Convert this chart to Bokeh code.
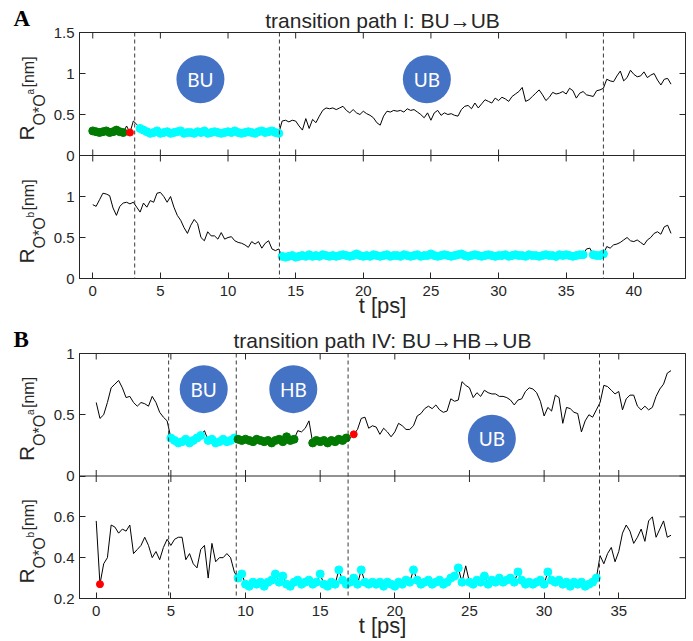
import numpy as np
from bokeh.plotting import figure
from bokeh.models import (Range1d, LinearAxis, FixedTicker, Span, Title,
                          CustomJSTickFormatter)
from bokeh.layouts import column, row
from bokeh.embed import file_html
from bokeh.resources import INLINE
from bokeh.core.properties import value

# ---------------- data: transition path I (panel A) ----------------
step_I = 0.25
ra_I = [0.30, 0.29, 0.28, 0.29, 0.30, 0.28, 0.29, 0.31, 0.29, 0.28,
        0.36, 0.28, 0.42, 0.38, 0.33, 0.31,
        0.29, 0.27, 0.28, 0.30, 0.27, 0.28, 0.29, 0.27, 0.28, 0.29,
        0.30, 0.27, 0.28, 0.28, 0.27, 0.29, 0.28, 0.30, 0.27, 0.28,
        0.29, 0.28, 0.27, 0.28, 0.29, 0.28, 0.30, 0.28, 0.27, 0.28,
        0.29, 0.28, 0.27, 0.29, 0.30, 0.28, 0.29, 0.30, 0.28, 0.27,
        0.42, 0.43, 0.41, 0.43, 0.42, 0.36, 0.31, 0.45, 0.33, 0.44,
        0.40, 0.48, 0.55, 0.58, 0.57, 0.58, 0.56, 0.58, 0.60, 0.55,
        0.52, 0.56, 0.52, 0.50, 0.54, 0.51, 0.49, 0.46, 0.40, 0.37,
        0.48, 0.54, 0.53, 0.55, 0.54, 0.55, 0.53, 0.57, 0.55, 0.56,
        0.53, 0.50, 0.46, 0.52, 0.43, 0.52, 0.55, 0.49, 0.52, 0.50,
        0.51, 0.49, 0.48, 0.56, 0.60, 0.61, 0.57, 0.64, 0.58, 0.63,
        0.68, 0.66, 0.64, 0.70, 0.67, 0.71, 0.69, 0.66, 0.72, 0.75,
        0.78, 0.83, 0.66, 0.68, 0.72, 0.76, 0.80, 0.74, 0.67, 0.71,
        0.77, 0.75, 0.76, 0.78, 0.75, 0.82, 0.79, 0.70, 0.76, 0.78,
        0.74, 0.73, 0.72, 0.79, 0.80, 0.82, 0.93, 0.91, 0.90, 0.97,
        1.03, 0.91, 0.95, 1.04, 0.99, 0.96, 0.97, 1.02, 0.95, 0.98,
        1.00, 0.92, 0.86, 0.93, 0.94, 0.87]
rb_I = [0.90, 0.88, 0.96, 1.04, 1.03, 1.01, 0.86, 0.77, 0.88, 0.92,
        0.93, 0.91, 0.93, 0.87, 0.81, 0.92, 0.87, 0.95, 0.93, 1.04,
        1.05, 1.00, 0.93, 1.00, 0.87, 0.77, 0.71, 0.62, 0.55, 0.65,
        0.72, 0.67, 0.50, 0.46, 0.57, 0.52, 0.52, 0.48, 0.56, 0.48,
        0.50, 0.51, 0.46, 0.44, 0.43, 0.41, 0.38, 0.45, 0.42, 0.45,
        0.37, 0.43, 0.46, 0.36, 0.34, 0.36,
        0.27, 0.26, 0.27, 0.28, 0.26, 0.27, 0.28, 0.27, 0.29, 0.27,
        0.28, 0.27, 0.29, 0.28, 0.27, 0.28, 0.27, 0.28, 0.29, 0.28,
        0.27, 0.28, 0.30, 0.28, 0.27, 0.28, 0.27, 0.29, 0.28, 0.27,
        0.28, 0.29, 0.27, 0.28, 0.28, 0.27, 0.29, 0.28, 0.27, 0.28,
        0.29, 0.27, 0.28, 0.28, 0.30, 0.28, 0.27, 0.28, 0.29, 0.28,
        0.27, 0.28, 0.29, 0.30, 0.28, 0.27, 0.28, 0.29, 0.28, 0.27,
        0.28, 0.29, 0.28, 0.27, 0.28, 0.28, 0.29, 0.27, 0.28, 0.29,
        0.28, 0.28, 0.27, 0.29, 0.28, 0.28, 0.27, 0.28, 0.29, 0.28,
        0.28, 0.27, 0.29, 0.28, 0.29, 0.28, 0.27, 0.28, 0.29, 0.29,
        0.36, 0.37, 0.29, 0.28, 0.28, 0.30,
        0.39, 0.37, 0.41, 0.42, 0.44, 0.47, 0.50, 0.46, 0.45, 0.47,
        0.44, 0.41, 0.47, 0.50, 0.55, 0.57, 0.54, 0.63, 0.65, 0.55]
t_I = np.round(np.arange(len(ra_I)) * step_I, 2)

# ---------------- data: transition path IV (panel B) ----------------
step_IV = 0.25
ra_IV = [0.60, 0.47, 0.50, 0.60, 0.72, 0.75, 0.78, 0.72, 0.64, 0.65,
         0.60, 0.57, 0.60, 0.59, 0.57, 0.65, 0.60, 0.52, 0.48, 0.45,
         0.31, 0.29, 0.27, 0.28, 0.30, 0.27, 0.29, 0.31, 0.33, 0.37,
         0.29, 0.30, 0.27, 0.28, 0.30, 0.28, 0.29, 0.31,
         0.30, 0.29, 0.30, 0.29, 0.28, 0.30, 0.29, 0.28, 0.29, 0.27,
         0.29, 0.30, 0.28, 0.32, 0.29, 0.30, 0.37, 0.36, 0.39, 0.45,
         0.27, 0.29, 0.28, 0.29, 0.27, 0.29, 0.28, 0.30, 0.29, 0.31,
         0.31, 0.34,
         0.38, 0.47, 0.48, 0.39, 0.41, 0.40, 0.34, 0.39, 0.36, 0.32,
         0.36, 0.43, 0.41, 0.38, 0.38, 0.41, 0.49, 0.51, 0.55, 0.57,
         0.55, 0.58, 0.54, 0.52, 0.53, 0.63, 0.61, 0.62, 0.77, 0.74,
         0.72, 0.64, 0.68, 0.65, 0.70, 0.68, 0.67, 0.67, 0.65, 0.65,
         0.64, 0.62, 0.58, 0.62, 0.63, 0.69, 0.72, 0.71, 0.68, 0.61,
         0.49, 0.56, 0.53, 0.66, 0.64, 0.43, 0.56, 0.55, 0.52, 0.51,
         0.36, 0.45, 0.50, 0.48, 0.54, 0.60, 0.74, 0.73, 0.70, 0.67,
         0.69, 0.54, 0.63, 0.66, 0.66, 0.57, 0.54, 0.57, 0.54, 0.56,
         0.65, 0.71, 0.75, 0.84, 0.86]
rb_IV = [0.58, 0.27, 0.37, 0.40, 0.56, 0.55, 0.52, 0.54, 0.53, 0.56,
         0.42, 0.44, 0.46, 0.50, 0.46, 0.40, 0.43, 0.39, 0.45, 0.49,
         0.46, 0.49, 0.50, 0.50, 0.39, 0.42, 0.37, 0.35, 0.44, 0.46,
         0.30, 0.47, 0.38, 0.40, 0.40, 0.42, 0.40, 0.33,
         0.30, 0.32, 0.27, 0.26, 0.28, 0.27, 0.28, 0.26, 0.28, 0.29,
         0.32, 0.28, 0.31, 0.27, 0.26, 0.28, 0.29, 0.27, 0.28, 0.29,
         0.27, 0.28, 0.32, 0.27, 0.26, 0.28, 0.27, 0.34, 0.29, 0.27,
         0.28, 0.30, 0.27, 0.34, 0.28, 0.27, 0.28, 0.27, 0.28, 0.26,
         0.28, 0.27, 0.26, 0.28, 0.27, 0.29, 0.28, 0.34, 0.29, 0.27,
         0.28, 0.29, 0.27, 0.28, 0.29, 0.27, 0.28, 0.30, 0.31, 0.35,
         0.28, 0.36, 0.28, 0.27, 0.29, 0.28, 0.31, 0.27, 0.29, 0.28,
         0.30, 0.28, 0.29, 0.30, 0.28, 0.33, 0.29, 0.27, 0.28, 0.27,
         0.28, 0.29, 0.27, 0.33, 0.29, 0.28, 0.29, 0.27, 0.28, 0.26,
         0.28, 0.27, 0.28, 0.26, 0.27, 0.28, 0.30,
         0.41,
         0.37, 0.42, 0.45, 0.38, 0.43, 0.52, 0.56, 0.53, 0.47, 0.50,
         0.54, 0.48, 0.58, 0.60, 0.50, 0.54, 0.58, 0.50, 0.51]
t_IV = np.round(np.arange(len(ra_IV)) * step_IV, 2)

# state windows (t ranges) in which points below the threshold are marked
THRESH = 0.355
win_I_a = {"green": (0.0, 2.4), "cyan": (3.4, 13.8)}
red_I_a = [2.75]
win_I_b = {"cyan": (13.9, 37.8)}
red_I_b = []
win_IV_a = {"cyan": (4.9, 9.4), "green": (9.4, 16.9)}
red_IV_a = [17.25]
win_IV_b = {"cyan": (9.4, 33.8)}
red_IV_b = [0.25]

dash_I = [3.1, 13.8, 37.75]
dash_IV = [4.85, 9.38, 16.87, 33.71]

badge_I_x = [7.96, 24.7]
badge_I_y = [0.93, 0.93]
badge_I_txt = ["BU", "UB"]
badge_IV_x = [7.2, 13.2, 26.5]
badge_IV_y = [0.709, 0.709, 0.305]
badge_IV_txt = ["BU", "HB", "UB"]

xt_I = [0, 5, 10, 15, 20, 25, 30, 35, 40]
xt_IV = [0, 5, 10, 15, 20, 25, 30, 35]
yt_I_a = [0, 0.5, 1, 1.5]
yt_I_b = [0, 0.5, 1]
yt_IV_a = [0, 0.5, 1]
yt_IV_b = [0.2, 0.4, 0.6]

xr_I = (-0.98, 43.82)
yr_I_a = (0, 1.5)
yr_I_b = (0, 1.5)
xr_IV = (-1.12, 39.47)
yr_IV_a = (0, 1.0)
yr_IV_b = (0.2, 0.8)

title_I = "transition path I: BU\u2192UB"
title_IV = "transition path IV: BU\u2192HB\u2192UB"

# ---------------- styling ----------------
AX = "#262626"
FONT = "Liberation Sans"
COL = {"cyan": "#00ffff", "green": "#007a00", "red": "#ff0000"}
BADGE = "#4472c4"
SIDE_W = 48
MAIN_W = 645
TOP = 32
BOTTOM = 43


def make_axis(ticks, labels):
    ax = LinearAxis(ticker=FixedTicker(ticks=list(ticks)))
    ax.major_tick_in = 6
    ax.major_tick_out = 0
    ax.minor_tick_line_color = None
    ax.axis_line_color = AX
    ax.major_tick_line_color = AX
    ax.major_label_text_font = FONT
    ax.major_label_text_font_size = "15px"
    ax.major_label_text_color = AX
    ax.formatter = CustomJSTickFormatter(
        args=dict(pos=list(ticks), lab=list(labels)),
        code="for (let i = 0; i < pos.length; i++) {"
             " if (Math.abs(tick - pos[i]) < 1e-6) return lab[i]; }"
             " return '';")
    return ax


def fmt(v):
    return "%g" % v


def text_canvas(w, h):
    f = figure(width=w, height=h, x_range=Range1d(0, w), y_range=Range1d(0, h),
               x_axis_type=None, y_axis_type=None, toolbar_location=None,
               output_backend="svg", min_border=0, title=None,
               frame_align=False)
    f.outline_line_color = None
    f.background_fill_color = "white"
    f.border_fill_color = "white"
    return f


def put(f, h, x, y_down, txt, size, font=FONT, rotated=False, style="normal",
        color=AX):
    # (x, y_down): start of the text on its baseline, in canvas pixels;
    # the glyph is anchored at the middle of its text box (0.35 em above
    # the baseline)
    px = float(size.replace("px", ""))
    shift = 0.35 * px
    if rotated:
        ax_, ay_, ang = x - shift, h - y_down, np.pi / 2
    else:
        ax_, ay_, ang = x, h - (y_down - shift), 0.0
    f.text([ax_], [ay_], text=[txt], angle=ang, text_align="left",
           text_baseline="middle", text_font=value(font),
           text_font_size=value(size), text_font_style=style,
           text_color=color)


def build(t, ra, rb, xr, yr_a, yr_b, xt, yt_a, yt_b, wins_a, reds_a, wins_b,
          reds_b, dashes, bx, by, btxt, frame_h, title, title_dx, title_so):
    span_b = yr_b[1] - yr_b[0]
    main = (yr_b[0], yr_b[1] + span_b)
    span_a = yr_a[1] - yr_a[0]
    topr = (yr_a[0] - span_a, yr_a[1])

    def to_main(v):
        return main[0] + (v - topr[0]) / (topr[1] - topr[0]) * (main[1] - main[0])

    ttl = Title(text=title, align="center", offset=title_dx, standoff=title_so,
                text_font=FONT, text_font_size="21px", text_font_style="normal",
                text_color=AX)
    p = figure(width=MAIN_W, height=TOP + frame_h + BOTTOM, title=ttl,
               x_range=Range1d(*xr), y_range=Range1d(*main),
               x_axis_type=None, y_axis_type=None,
               toolbar_location=None, output_backend="svg",
               min_border_left=31, min_border_right=8,
               min_border_top=TOP, min_border_bottom=BOTTOM,
               frame_align=False)
    p.extra_y_ranges = {"top": Range1d(*topr)}
    p.outline_line_color = AX
    p.background_fill_color = "white"
    p.border_fill_color = "white"

    ypos = list(yt_b) + [to_main(v) for v in yt_a]
    ylab = [fmt(v) for v in yt_b] + [fmt(v) for v in yt_a]
    left = make_axis(ypos, ylab)
    left.major_label_standoff = 5
    p.add_layout(left, "left")
    below = make_axis(xt, [fmt(v) for v in xt])
    below.major_label_standoff = 7
    below.axis_label = "t [ps]"
    below.axis_label_text_font = FONT
    below.axis_label_text_font_style = "normal"
    below.axis_label_text_font_size = "22px"
    below.axis_label_text_color = AX
    below.axis_label_standoff = -6
    p.add_layout(below, "below")

    # inward ticks on the top / right frame edges and the panel divider
    divider = yr_b[1]
    p.scatter(xt, [main[1]] * len(xt), marker="dash", angle=np.pi / 2,
              size=12, line_color=AX, line_width=1)
    p.scatter([xr[1]] * len(ypos), ypos, marker="dash", size=12,
              line_color=AX, line_width=1)
    p.add_layout(Span(location=divider, dimension="width", line_color=AX,
                      line_width=1))
    p.scatter(xt, [divider] * len(xt), marker="dash", angle=np.pi / 2,
              size=12, line_color=AX, line_width=1)

    for d in dashes:
        p.add_layout(Span(location=d, dimension="height", line_color="#3a3a3a",
                          line_dash="4 3", line_width=1))

    t = np.asarray(t)
    for series, wins, reds, yname in ((ra, wins_a, reds_a, "top"),
                                      (rb, wins_b, reds_b, "default")):
        r = np.asarray(series)
        p.line(t, r, line_color="black", line_width=1, y_range_name=yname)
        for cname, (lo, hi) in wins.items():
            m = (t >= lo) & (t <= hi) & (r < THRESH)
            p.scatter(t[m], r[m], size=8, marker="circle",
                      fill_color=COL[cname], line_color=COL[cname],
                      y_range_name=yname)
        if reds:
            m = np.zeros(len(t), dtype=bool)
            for rt in reds:
                m |= np.isclose(t, rt)
            p.scatter(t[m], r[m], size=7, marker="circle",
                      fill_color=COL["red"], line_color=COL["red"],
                      y_range_name=yname)

    p.scatter(bx, by, size=48, marker="circle", fill_color=BADGE,
              line_color=None, y_range_name="top")
    p.text(bx, by, text=btxt, text_align="center", text_baseline="middle",
           text_color="white", text_font=value("Lato"),
           text_font_size=value("19px"), y_range_name="top")
    return p


def side_canvas(h, letter, bases, sups):
    f = text_canvas(SIDE_W, h)
    put(f, h, 13, 26, letter, "23px", font="Liberation Serif", style="bold",
        color="black")
    # R_{O*O^x}[nm], rotated, one per sub-panel; base = sub-panel bottom
    for base, sup in zip(bases, sups):
        put(f, h, 33, base - 15, "R", "21px", rotated=True)
        put(f, h, 45, base - 30, "O*O", "16px", rotated=True)
        put(f, h, 33, base - 61, sup, "10px", rotated=True)
        put(f, h, 34, base - 68, "[nm]", "16px", rotated=True)
    return f


# ----- panel A -----
FA = 246
mainA = build(t_I, ra_I, rb_I, xr_I, yr_I_a, yr_I_b, xt_I, yt_I_a, yt_I_b,
              win_I_a, red_I_a, win_I_b, red_I_b, dash_I,
              badge_I_x, badge_I_y, badge_I_txt, FA, title_I, 31, 1)
hA = TOP + FA + BOTTOM
sideA = side_canvas(hA, "A", [TOP + FA / 2, TOP + FA], ["a", "b"])

# ----- panel B -----
FB = 245
mainB = build(t_IV, ra_IV, rb_IV, xr_IV, yr_IV_a, yr_IV_b, xt_IV, yt_IV_a,
              yt_IV_b, win_IV_a, red_IV_a, win_IV_b, red_IV_b, dash_IV,
              badge_IV_x, badge_IV_y, badge_IV_txt, FB, title_IV, 2.5, 3)
hB = TOP + FB + BOTTOM
sideB = side_canvas(hB, "B", [TOP + FB / 2, TOP + FB], ["a", "b"])

layout = column(row(sideA, mainA), row(sideB, mainB))
open("out.html", "w").write(file_html(layout, INLINE))
